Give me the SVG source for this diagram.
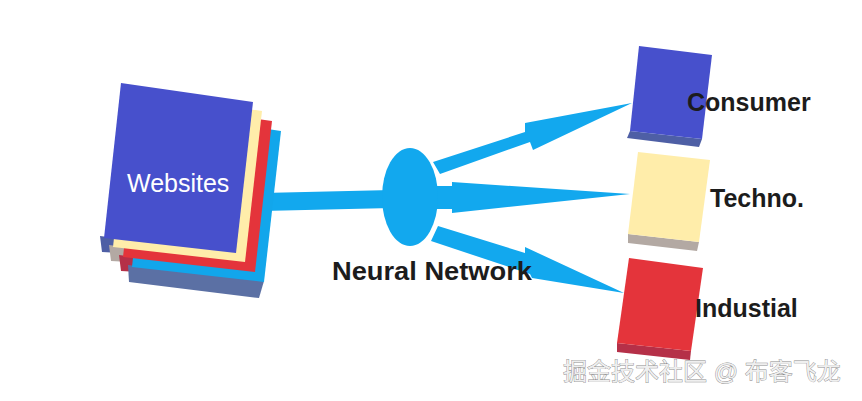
<svg xmlns="http://www.w3.org/2000/svg" width="862" height="401" viewBox="0 0 862 401">
<style>
.bg{fill:#ffffff}
.blue{fill:#4750CC}
.yellow{fill:#FFEDAA}
.red{fill:#E4343B}
.sky{fill:#12A6EB}
.flow{fill:#12A8EE}
.s-blue{fill:#4E5FA5}
.s-yellow{fill:#B3A9A3}
.s-red{fill:#B53048}
.s-sky{fill:#5B70A4}
.lbl{font-family:"Liberation Sans",Arial,sans-serif;font-weight:bold;font-size:25px;fill:#1c1c1c}
.wlbl{font-family:"Liberation Sans",Arial,sans-serif;font-size:25px;fill:#ffffff}
.wm{font-family:"Liberation Sans","Noto Sans CJK SC",sans-serif;font-size:24px;fill:#efefef;stroke:#8a8a8a;stroke-width:0.8;paint-order:stroke}
</style>
<defs>
<polygon id="face" points="121,83 253,102 236,253 104,238"/>
<polygon id="tab" points="100,236 236,253 228,259 102,252"/>
<polygon id="strip" points="100,236 236,252 231,269 101,253"/>
</defs>
<rect class="bg" x="0" y="0" width="862" height="401"/>

<g id="connectors">
<polygon class="flow" points="262,193 392,190 392,208 262,211"/>
<polygon class="flow" points="433,162 525,132 525,123 632,103 533,150 530,142 440,174"/>
<polygon class="flow" points="436,186 452,186 452,182 630,194 452,213 452,209 436,209"/>
<polygon class="flow" points="438,226 525,253 525,247 624,293 532,278 530,274 431,241"/>
</g>

<g id="websites">
<use href="#tab" class="s-blue"/>
<use href="#tab" class="s-yellow" transform="translate(9,9)"/>
<use href="#tab" class="s-red" transform="translate(19,19)"/>
<use href="#strip" class="s-sky" transform="translate(28,29)"/>
<use href="#face" class="sky" transform="translate(28,29)"/>
<use href="#face" class="red" transform="translate(19,19)"/>
<use href="#face" class="yellow" transform="translate(9,9)"/>
<use href="#face" class="blue"/>
<text class="wlbl" x="127" y="192">Websites</text>
</g>

<g id="neural-network">
<ellipse class="flow" cx="410" cy="197" rx="28" ry="49"/>
<text class="lbl" x="332" y="280" textLength="200" lengthAdjust="spacingAndGlyphs">Neural Network</text>
</g>

<g id="consumer">
<polygon class="s-blue" points="630,131 702,139 699,147 627,138"/>
<polygon class="blue" points="639,46 712,55 702,139 630,131"/>
<text class="lbl" x="687" y="111">Consumer</text>
</g>

<g id="techno">
<polygon class="s-yellow" points="628,234 699,242 697,251 628,243"/>
<polygon class="yellow" points="638,152 710,160 699,242 628,234"/>
<text class="lbl" x="710" y="207">Techno.</text>
</g>

<g id="industial">
<polygon class="s-red" points="617,343 691,351 690,360 617,352"/>
<polygon class="red" points="629,258 703,268 691,351 617,343"/>
<text class="lbl" x="695" y="317">Industial</text>
</g>

<text class="wm" x="563" y="380">掘金技术社区 @ 布客飞龙</text>
</svg>
